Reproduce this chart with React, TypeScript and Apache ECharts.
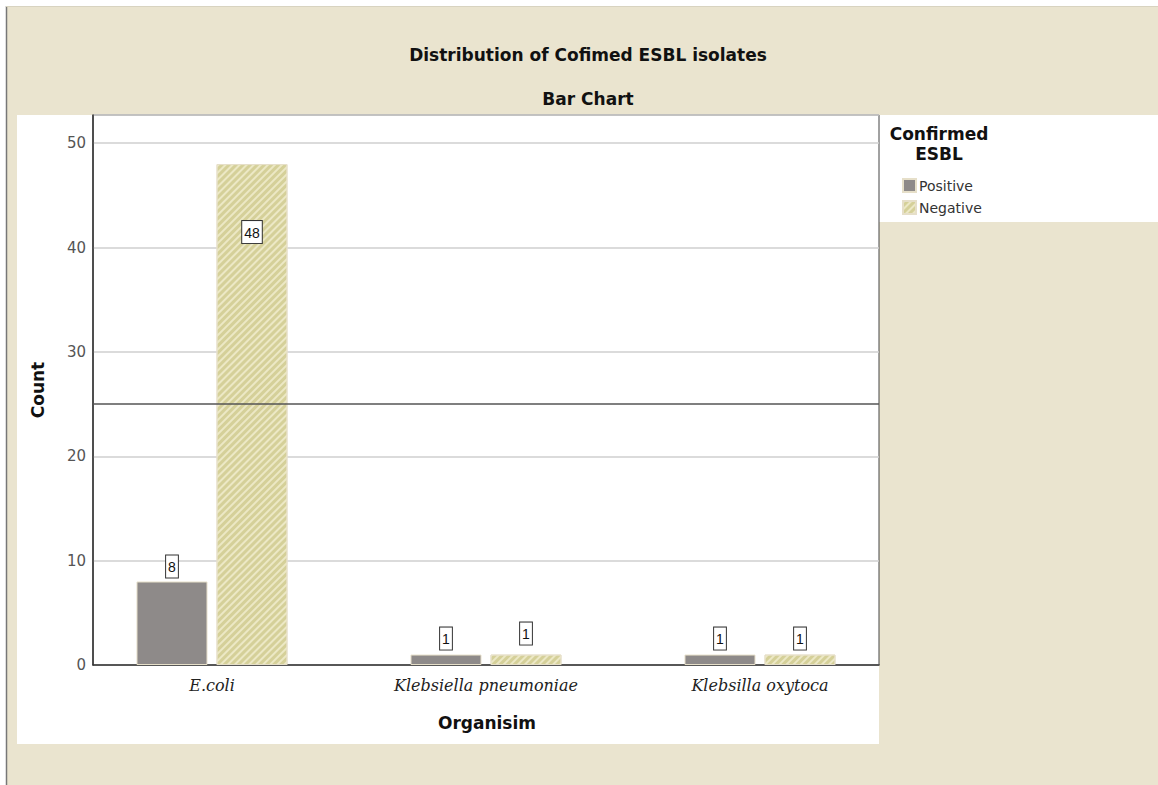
import React, { useEffect, useRef } from "react";
import * as echarts from "echarts";

// Counts of isolates by organism, split by confirmed ESBL status
const ORGANISMS = ["E.coli", "Klebsiella pneumoniae", "Klebsilla oxytoca"];
const POSITIVE = [8, 1, 1];
const NEGATIVE = [48, 1, 1];
const SERIES_NAMES = ["Positive", "Negative"];
const REFERENCE_COUNT = 25;
const Y_MIN = 0;
const Y_MAX = 52.7;
const Y_STEP = 10;

const TITLE = "Distribution of Cofimed ESBL isolates";
const SUBTITLE = "Bar Chart";
const LEGEND_TITLE = ["Confirmed", "ESBL"];
const X_NAME = "Organisim";
const Y_NAME = "Count";

// label placement per bar (position, distance, leader line)
const POS_LABEL_PLACE = [
  { position: "top", distance: 4, line: true },
  { position: "top", distance: 5, line: true },
  { position: "top", distance: 5, line: true },
];
const NEG_LABEL_PLACE = [
  { position: "insideTop", distance: 57, line: false },
  { position: "top", distance: 10, line: true },
  { position: "top", distance: 5, line: true },
];

const BEIGE = "#EAE4CF";
const POS_COLOR = "#8E8A89";
const NEG_COLOR = "#D5D099";
const HEAD_FONT = "bold 17px 'DejaVu Sans'";

const boxLabel = {
  show: true,
  color: "#111",
  fontFamily: "Liberation Sans",
  fontSize: 14,
  lineHeight: 15,
  backgroundColor: "#fff",
  borderColor: "#333",
  borderWidth: 1,
  padding: [4, 2, 3, 2],
};

function buildItems(values: number[], place: typeof POS_LABEL_PLACE) {
  return values.map((v, i) => ({
    value: v,
    label: { ...boxLabel, position: place[i].position, distance: place[i].distance },
    labelLine: { show: place[i].line, lineStyle: { color: "#333", width: 1 } },
  }));
}

function headText(text: string, x: number, y: number, extra: any = {}) {
  return {
    type: "text",
    x,
    y,
    ...extra,
    style: { text, align: "center", verticalAlign: "middle", font: HEAD_FONT, fill: "#111" },
  };
}

export default function App() {
  const ref = useRef<HTMLDivElement>(null);

  useEffect(() => {
    if (!ref.current) return;
    const chart = echarts.init(ref.current, null, { renderer: "svg" });

    const plot = { left: 93, top: 115, width: 786, height: 550 };
    const band = { left: 75, top: 115, width: 822, height: 550 };

    const option: any = {
      animation: false,
      backgroundColor: "#fff",
      graphic: [
        { type: "rect", z: -100, shape: { x: 6, y: 6, width: 1152, height: 779 }, style: { fill: BEIGE } },
        { type: "line", z: -99, shape: { x1: 6.5, y1: 6, x2: 6.5, y2: 785 }, style: { stroke: "#777", lineWidth: 1.5 } },
        { type: "line", z: -99, shape: { x1: 6, y1: 6.5, x2: 1158, y2: 6.5 }, style: { stroke: "#d8d3c0", lineWidth: 1 } },
        { type: "rect", z: -98, shape: { x: 17, y: 115, width: 862, height: 629 }, style: { fill: "#fff" } },
        { type: "rect", z: -98, shape: { x: 879, y: 115, width: 279, height: 107 }, style: { fill: "#fff" } },
        headText(TITLE, 588, 55),
        headText(SUBTITLE, 588, 99),
        headText(LEGEND_TITLE[0], 939, 134),
        headText(LEGEND_TITLE[1], 939, 154),
        headText(X_NAME, 487, 723),
        headText(Y_NAME, 38, 390, { rotation: Math.PI / 2 }),
      ],
      legend: {
        orient: "vertical",
        left: 897,
        top: 173,
        itemWidth: 13,
        itemHeight: 13,
        itemGap: 7,
        icon: "rect",
        data: SERIES_NAMES,
        textStyle: { fontFamily: "DejaVu Sans", fontSize: 14, color: "#333", padding: [0, 0, 0, -2] },
      },
      grid: [
        { ...plot, show: true, borderColor: "#444", borderWidth: 1, backgroundColor: "transparent" },
        { ...band, show: false },
      ],
      xAxis: [
        {
          gridIndex: 0,
          type: "category",
          data: ORGANISMS,
          axisLine: { show: true, lineStyle: { color: "#333", width: 1.5 } },
          axisTick: { show: false },
          axisLabel: { show: false },
          splitLine: { show: false },
        },
        {
          gridIndex: 1,
          type: "category",
          data: ORGANISMS,
          axisLine: { show: false },
          axisTick: { show: false },
          axisLabel: {
            margin: 12,
            fontFamily: "DejaVu Serif",
            fontStyle: "italic",
            fontSize: 16,
            color: "#222",
          },
        },
      ],
      yAxis: [
        {
          gridIndex: 0,
          type: "value",
          min: Y_MIN,
          max: Y_MAX,
          interval: Y_STEP,
          axisLine: { show: true, lineStyle: { color: "#333", width: 1.5 } },
          axisTick: { show: false },
          axisLabel: {
            margin: 7,
            fontFamily: "DejaVu Sans",
            fontSize: 15,
            color: "#555",
            showMaxLabel: false,
          },
          splitLine: { show: true, lineStyle: { color: "#cfcfcf", width: 1.5 } },
        },
        {
          gridIndex: 1,
          type: "value",
          min: Y_MIN,
          max: Y_MAX,
          interval: Y_STEP,
          show: false,
          splitLine: { show: false },
        },
      ],
      series: [
        {
          type: "line",
          xAxisIndex: 0,
          yAxisIndex: 0,
          data: ORGANISMS.map(() => null),
          silent: true,
          showSymbol: false,
          markLine: {
            silent: true,
            symbol: ["none", "none"],
            label: { show: false },
            lineStyle: { color: "#555", width: 1.5, type: "solid" },
            data: [{ yAxis: REFERENCE_COUNT }],
          },
        },
        {
          name: SERIES_NAMES[0],
          type: "bar",
          xAxisIndex: 1,
          yAxisIndex: 1,
          barWidth: 71,
          barGap: "12.7%",
          data: buildItems(POSITIVE, POS_LABEL_PLACE),
          itemStyle: { color: POS_COLOR, borderColor: "#E6DFC9", borderWidth: 1 },
        },
        {
          name: SERIES_NAMES[1],
          type: "bar",
          xAxisIndex: 1,
          yAxisIndex: 1,
          barWidth: 71,
          barGap: "12.7%",
          data: buildItems(NEGATIVE, NEG_LABEL_PLACE),
          itemStyle: {
            color: NEG_COLOR,
            borderColor: "#E6DFC9",
            borderWidth: 1,
            decal: {
              symbol: "rect",
              symbolSize: 1,
              color: "rgba(240, 237, 205, 0.85)",
              dashArrayX: [1, 0],
              dashArrayY: [2, 3],
              rotation: -Math.PI / 4,
            },
          },
        },
      ],
    };

    chart.setOption(option);
    return () => chart.dispose();
  }, []);

  return (
    <div
      ref={ref}
      style={{ position: "fixed", left: 0, top: 0, width: 1158, height: 785 }}
    />
  );
}
